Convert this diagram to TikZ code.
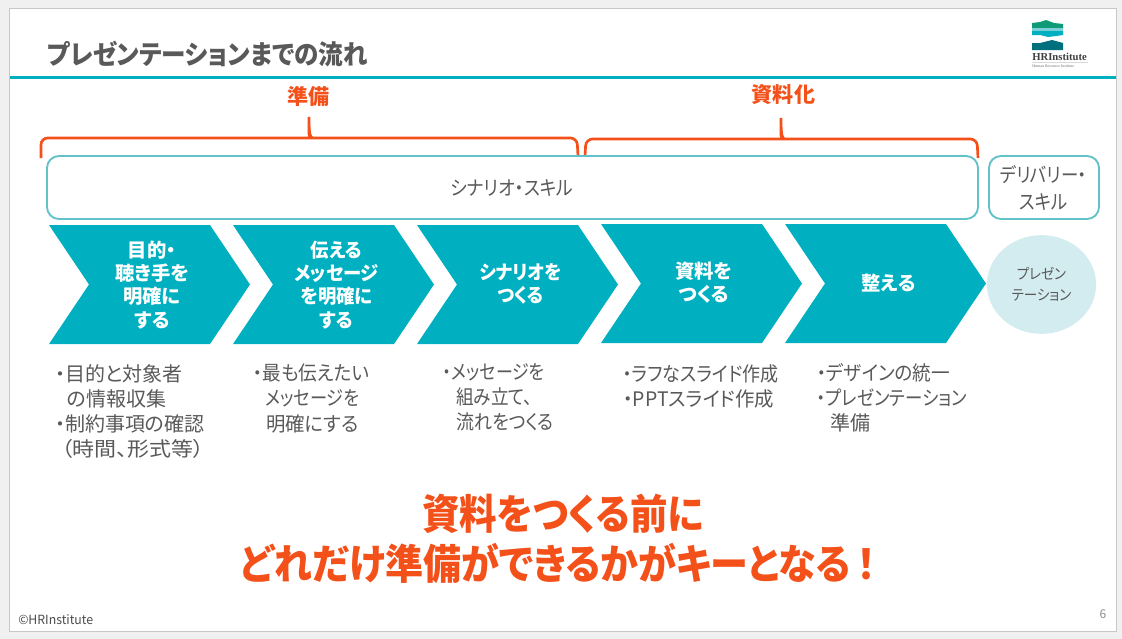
\documentclass[tikz,border=0pt]{standalone}
\usepackage{fontspec}
\usepackage{xcolor}
\usetikzlibrary{shapes.geometric}
\setmainfont{Noto Sans CJK JP}[RawFeature=+palt]
\newfontfamily\logofont{Liberation Serif}
\definecolor{slidegray}{HTML}{595959}
\definecolor{hrteal}{HTML}{00B0C0}
\definecolor{hrorange}{HTML}{F4511A}
\definecolor{hrborder}{HTML}{62C1C9}
\definecolor{hrpale}{HTML}{D3ECF0}
\definecolor{logogreen}{HTML}{0F9A78}
\definecolor{logoband}{HTML}{7CCFD6}
\definecolor{logodeep}{HTML}{00707E}
\tikzset{
	bodytext/.style={anchor=west,inner sep=0pt,text=slidegray,font=\fontsize{15}{18}\selectfont},
	steptext/.style={inner sep=0pt,align=center,text=white,font=\fontsize{14.5}{17.3}\selectfont\bfseries},
	heading/.style={inner sep=0pt,text=hrorange,font=\fontsize{15.8}{18}\selectfont\bfseries},
	skillbox/.style={draw=hrborder,line width=1.4pt,rounded corners=9pt,fill=white},
	skilltext/.style={inner sep=0pt,align=center,text=slidegray,font=\fontsize{15}{20}\selectfont},
	bracket/.style={draw=hrorange,line width=2pt,rounded corners=5pt},
	keyline/.style={anchor=west,inner sep=0pt,text=hrorange,font=\fontsize{31}{36}\selectfont\bfseries}
}
\begin{document}
\begin{tikzpicture}[x=0.75pt,y=-0.75pt]
		\useasboundingbox (0,0) rectangle (1122,639);
		
		% slide
		\fill [black!6] (0,0) rectangle (1122,639);
		\draw [fill=white,draw=black!22,line width=0.6pt] (9,8) rectangle (1116,631);
		\fill [hrteal] (10,75.5) rectangle (1116,78.5);
		\node [anchor=west,inner sep=0pt,xscale=0.92,text=slidegray,font=\fontsize{20}{24}\selectfont\bfseries] (title) at (47,54) {プレゼンテーションまでの流れ};
		
		% logo
		\fill [logogreen] (1032,23) -- (1040,22) -- (1046,20) -- (1054,23) -- (1063,24) -- (1063,29) -- (1032,29) -- cycle;
		\fill [logoband] (1032,28) rectangle (1063,31);
		\fill [hrteal] (1032,31) -- (1063,31) -- (1063,35) -- (1056,36) -- (1048,37) -- (1040,35) -- (1032,35) -- cycle;
		\fill [logodeep] (1032,43) -- (1040,43) -- (1052,40) -- (1063,43) -- (1063,50) -- (1032,50) -- cycle;
		\node [anchor=west,inner sep=0pt,text=black!75,font=\logofont\fontsize{8}{9}\selectfont] (logoname) at (1032,57) {\textbf{HRInstitute}};
		\fill [black!15] (1032,61.5) rectangle (1088,62.5);
		\node [anchor=west,inner sep=0pt,text=black!55,font=\logofont\fontsize{3}{4}\selectfont] (logosub) at (1032,66) {Human Resource Institute};
		
		% headings and brackets
		\node [heading] (prep) at (308.5,96) {準備};
		\node [heading] (docs) at (783.5,95) {資料化};
		\draw [bracket] (41,158) -- (41,138) -- (305,138) [sharp corners] .. controls (308,138) and (309,134) .. (309,117) .. controls (309,134) and (310,138) .. (313,138) [rounded corners=5pt] -- (577,138) -- (578,156);
		\draw [bracket] (585,156) -- (586,139) -- (777,139) [sharp corners] .. controls (780,139) and (781,135) .. (781,118) .. controls (781,135) and (782,139) .. (785,139) [rounded corners=5pt] -- (977,139) -- (978,158);
		
		% skill boxes
		\draw [skillbox] (47,156) rectangle (978,219);
		\node [skilltext,xscale=0.89] (scenario) at (512,188) {シナリオ・スキル};
		\draw [skillbox] (989,156) rectangle (1099,219);
		\node [skilltext,xscale=0.87] (delivery) at (1043.5,188) {デリバリー・\\スキル};
		
		% chevrons
		\foreach \x/\y in {49/225,233/225,417/225,601/224,785/224}
			\fill [hrteal] (\x,\y) -- (\x+161,\y) -- (\x+201,\y+59.5) -- (\x+161,\y+119) -- (\x,\y+119) -- (\x+40,\y+59.5) -- cycle;
		\node [steptext] (stepa) at (152,285) {目的・\\聴き手を\\明確に\\する};
		\node [steptext,xscale=0.95] (stepb) at (336.5,285) {伝える\\メッセージ\\を明確に\\する};
		\node [steptext,xscale=0.92] (stepc) at (520.5,284) {シナリオを\\つくる};
		\node [steptext] (stepd) at (704,283) {資料を\\つくる};
		\node [steptext] (stepe) at (888.5,283) {整える};
		
		% goal
		\node [ellipse,fill=hrpale,minimum width=89pt,minimum height=74pt,inner sep=0pt,xscale=0.92,align=center,text=slidegray,font=\fontsize{11}{16}\selectfont] (goal) at (1041.5,284.5) {プレゼン\\テーション};
		
		% column 1
		\node [bodytext] (aa) at (55,374) {・目的と対象者};
		\node [bodytext] (ab) at (67,399) {の情報収集};
		\node [bodytext] (ac) at (55,424) {・制約事項の確認};
		\node [bodytext,xscale=1.1] (ad) at (61,449) {（時間、形式等）};
		
		% column 2
		\node [bodytext,xscale=0.93] (ba) at (253,373) {・最も伝えたい};
		\node [bodytext,xscale=0.86] (bb) at (265,398) {メッセージを};
		\node [bodytext,xscale=0.97] (bc) at (266,424) {明確にする};
		
		% column 3
		\node [bodytext,xscale=0.85] (ca) at (443,372) {・メッセージを};
		\node [bodytext,xscale=0.88] (cb) at (456,397) {組み立て、};
		\node [bodytext,xscale=0.9] (cc) at (456,422) {流れをつくる};
		
		% column 4
		\node [bodytext,xscale=0.9] (da) at (623,374) {・ラフなスライド作成};
		\node [bodytext,xscale=0.97] (db) at (623,399) {・PPTスライド作成};
		
		% column 5
		\node [bodytext,xscale=0.93] (ea) at (817,373) {・デザインの統一};
		\node [bodytext,xscale=0.87] (eb) at (817,398) {・プレゼンテーション};
		\node [bodytext] (ec) at (830,423) {準備};
		
		% key message
		\node [keyline,xscale=0.906] (keya) at (422,514) {資料をつくる前に};
		\node [keyline,xscale=0.92] (keyb) at (240,563) {どれだけ準備ができるかがキーとなる\hspace{5pt}！};
		
		% footer
		\node [anchor=west,inner sep=0pt,xscale=0.97,text=black!70,font=\fontsize{9.5}{12}\selectfont] (copy) at (18,620) {©HRInstitute};
		\node [inner sep=0pt,text=black!45,font=\fontsize{9}{12}\selectfont] (page) at (1103,614) {6};
		
		\end{tikzpicture}
\end{document}
